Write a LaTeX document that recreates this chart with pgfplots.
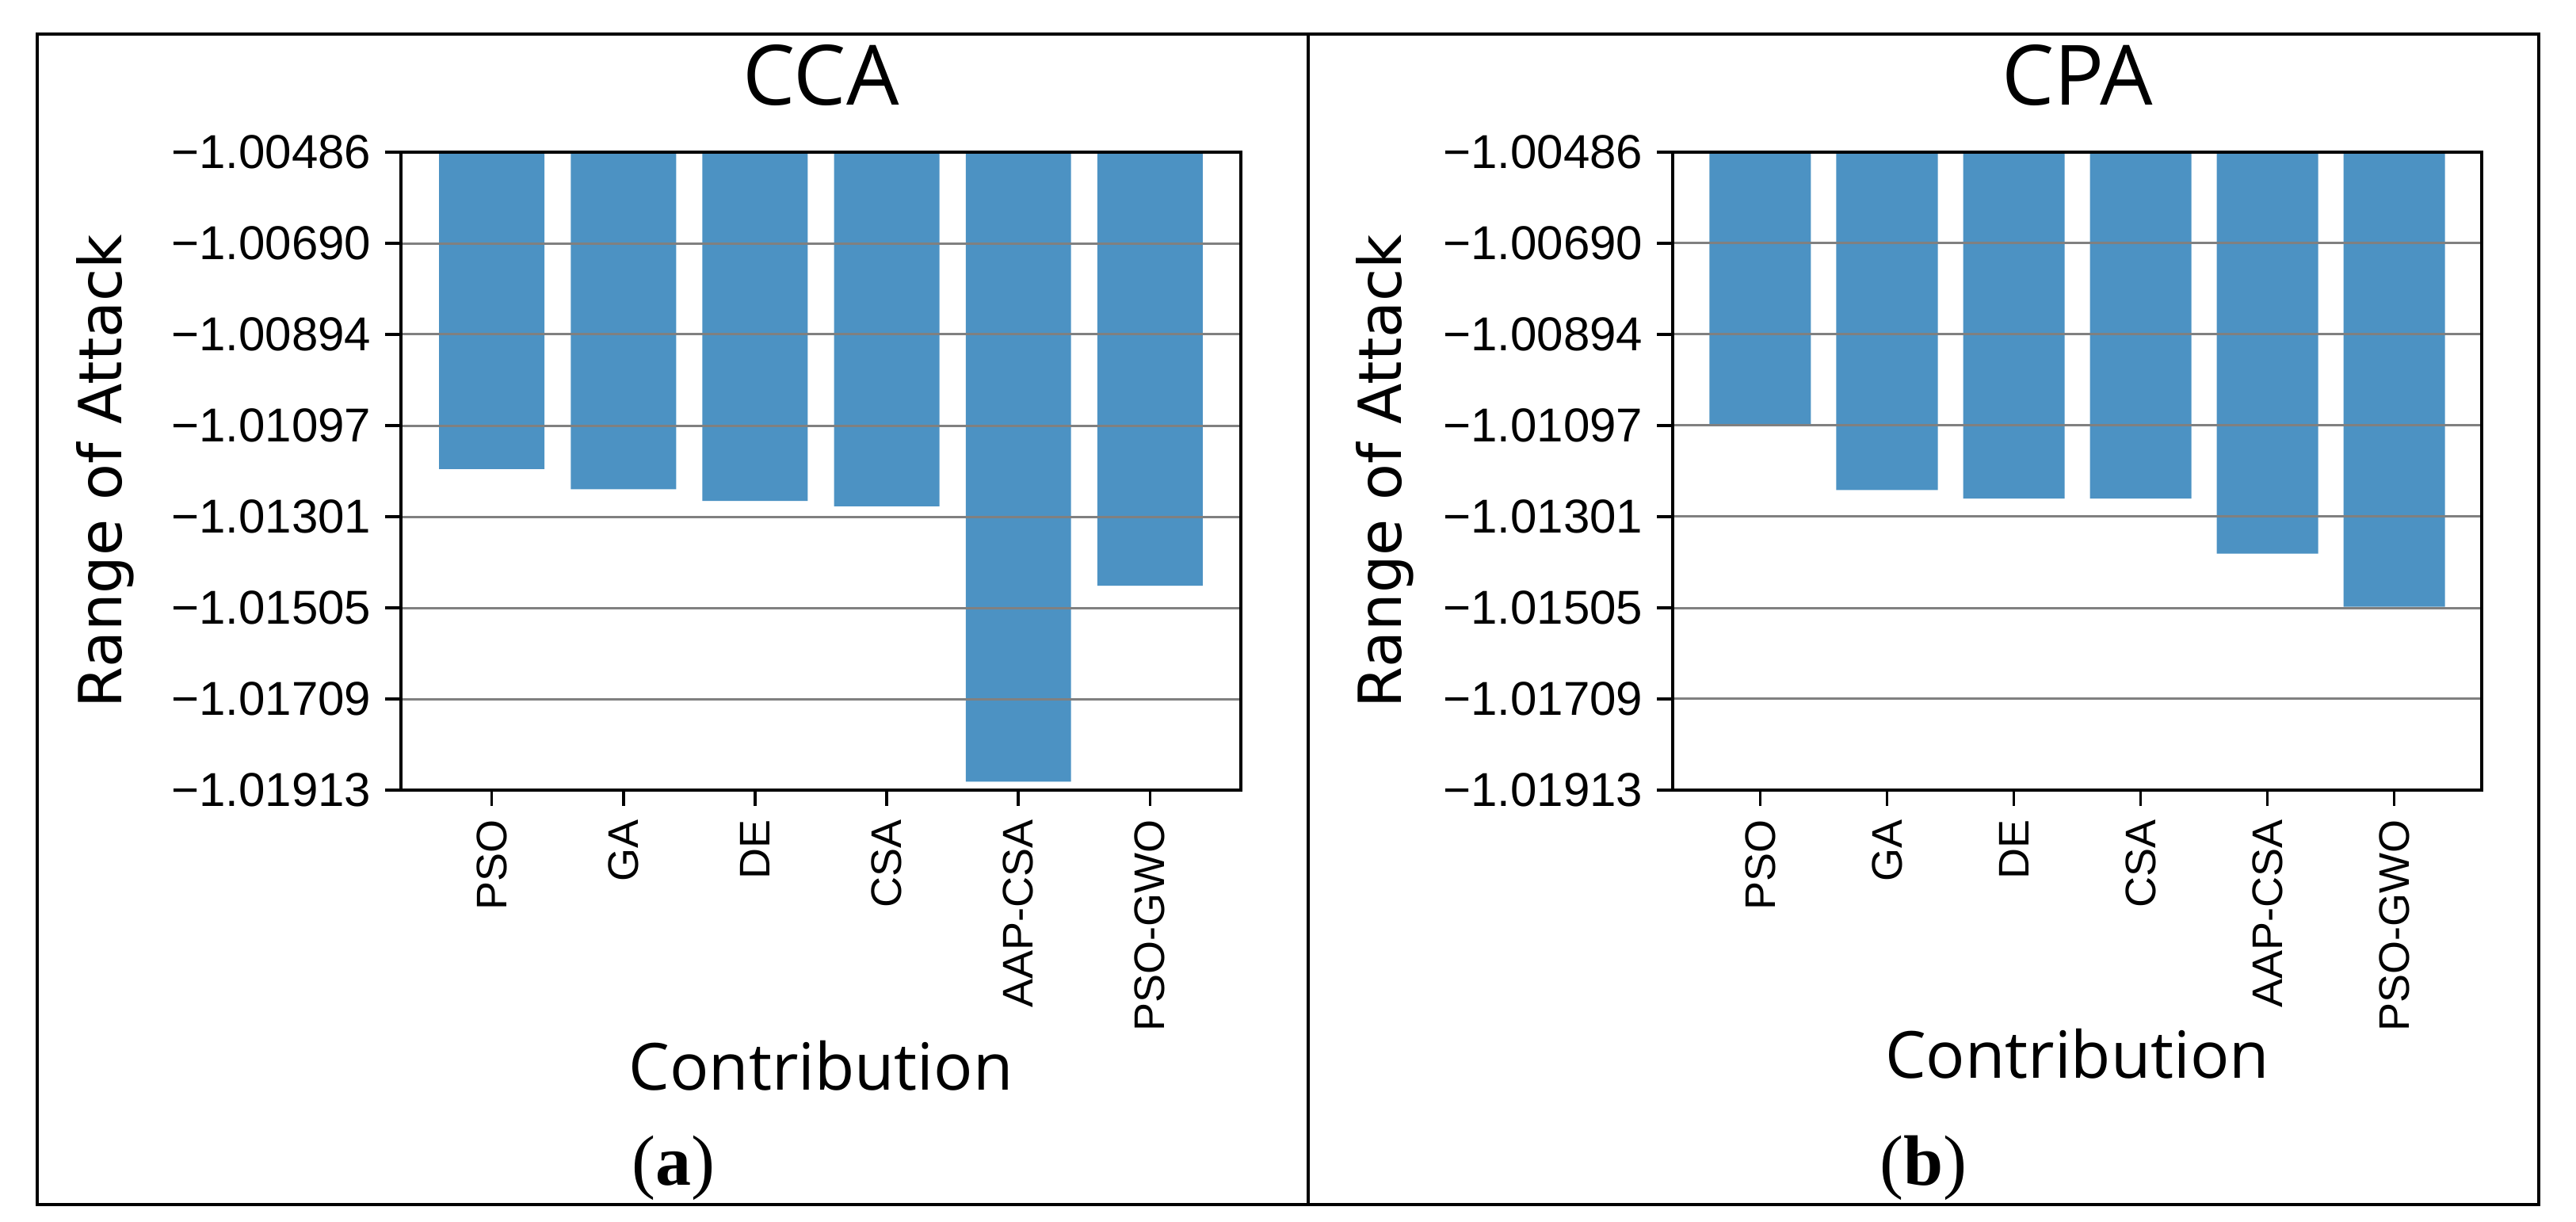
\documentclass[border=0pt]{standalone}
\usepackage{fontspec}
\setmainfont{Liberation Sans}
\newfontfamily\titlefont{Open Sans}
\newfontfamily\ylabfont{DejaVu Sans}
\newfontfamily\capfont{Liberation Serif}
\usepackage{pgfplots}
\usepackage{pgfplotstable}
\pgfplotsset{compat=1.18}
\definecolor{barblue}{HTML}{4C92C3}

% range of attack per method (0 PSO ... 5 PSO-GWO)
\pgfplotstableread{
x y
0 -1.01195
1 -1.01240
2 -1.01266
3 -1.01278
4 -1.01894
5 -1.01456
}\ccadata
\pgfplotstableread{
x y
0 -1.01095
1 -1.01242
2 -1.01261
3 -1.01261
4 -1.01384
5 -1.01503
}\cpadata

\pgfplotsset{
  raplot/.style={
    scale only axis, height=161pt, anchor=south west,
    ybar, bar width=0.8,
    xmin=-0.69, xmax=5.69,
    ymin=-0.01427, ymax=0,
    % bars hang from the top limit -1.00486
    y filter/.expression={y+1.00486},
    xtick={0,...,5},
    xticklabels={PSO,GA,DE,CSA,AAP-CSA,PSO-GWO},
    ytick={0,-0.0020386,-0.0040771,-0.0061157,-0.0081543,-0.0101929,-0.0122314,-0.01427},
    yticklabels={−1.00486,−1.00690,−1.00894,−1.01097,−1.01301,−1.01505,−1.01709,−1.01913},
    scaled y ticks=false,
    ymajorgrids, grid style={color=gray, line width=0.6pt},
    axis on top,
    axis line style={line width=0.7pt},
    tick style={black, line width=0.7pt},
    tick align=outside, xtick pos=bottom, ytick pos=left,
    major tick length=4pt,
    xticklabel style={rotate=90, anchor=east, font=\fontsize{10.8}{12}\selectfont},
    yticklabel style={font=\fontsize{12}{14}\selectfont},
    title style={at={(0.5,1)}, anchor=base, yshift=5.8pt, font=\fontsize{21}{25}\selectfont\titlefont},
    ylabel={Range of Attack},
    xlabel={Contribution},
    ylabel style={anchor=base, font=\fontsize{15}{18}\selectfont\ylabfont},
    xlabel style={anchor=base, font=\fontsize{16.4}{19}\selectfont\titlefont},
  }
}

\begin{document}
\begin{tikzpicture}
\useasboundingbox (0,0) rectangle (650.2pt,308.2pt);
\draw[line width=0.9pt] (9.4pt,4.2pt) rectangle (640.8pt,299.6pt);
\draw[line width=0.9pt] (330.2pt,4.2pt) -- (330.2pt,299.6pt);

\begin{axis}[raplot, width=212pt, at={(101.2pt,108.8pt)}, title={CCA},
  ylabel style={at={(axis description cs:-0.333,0.5)}},
  xlabel style={at={(axis description cs:0.5,-0.4696)}}]
\addplot[fill=barblue, draw=none] table[x=x,y=y] {\ccadata};
\end{axis}

\begin{axis}[raplot, width=204.2pt, at={(422.2pt,108.8pt)}, title={CPA},
  ylabel style={at={(axis description cs:-0.335,0.5)}},
  xlabel style={at={(axis description cs:0.5,-0.452)}}]
\addplot[fill=barblue, draw=none] table[x=x,y=y] {\cpadata};
\end{axis}

\node[anchor=base, font=\fontsize{18}{21}\selectfont\capfont] at (170pt,9.2pt) {(\textbf{a})};
\node[anchor=base, font=\fontsize{18}{21}\selectfont\capfont] at (485.4pt,9.2pt) {(\textbf{b})};
\end{tikzpicture}
\end{document}
